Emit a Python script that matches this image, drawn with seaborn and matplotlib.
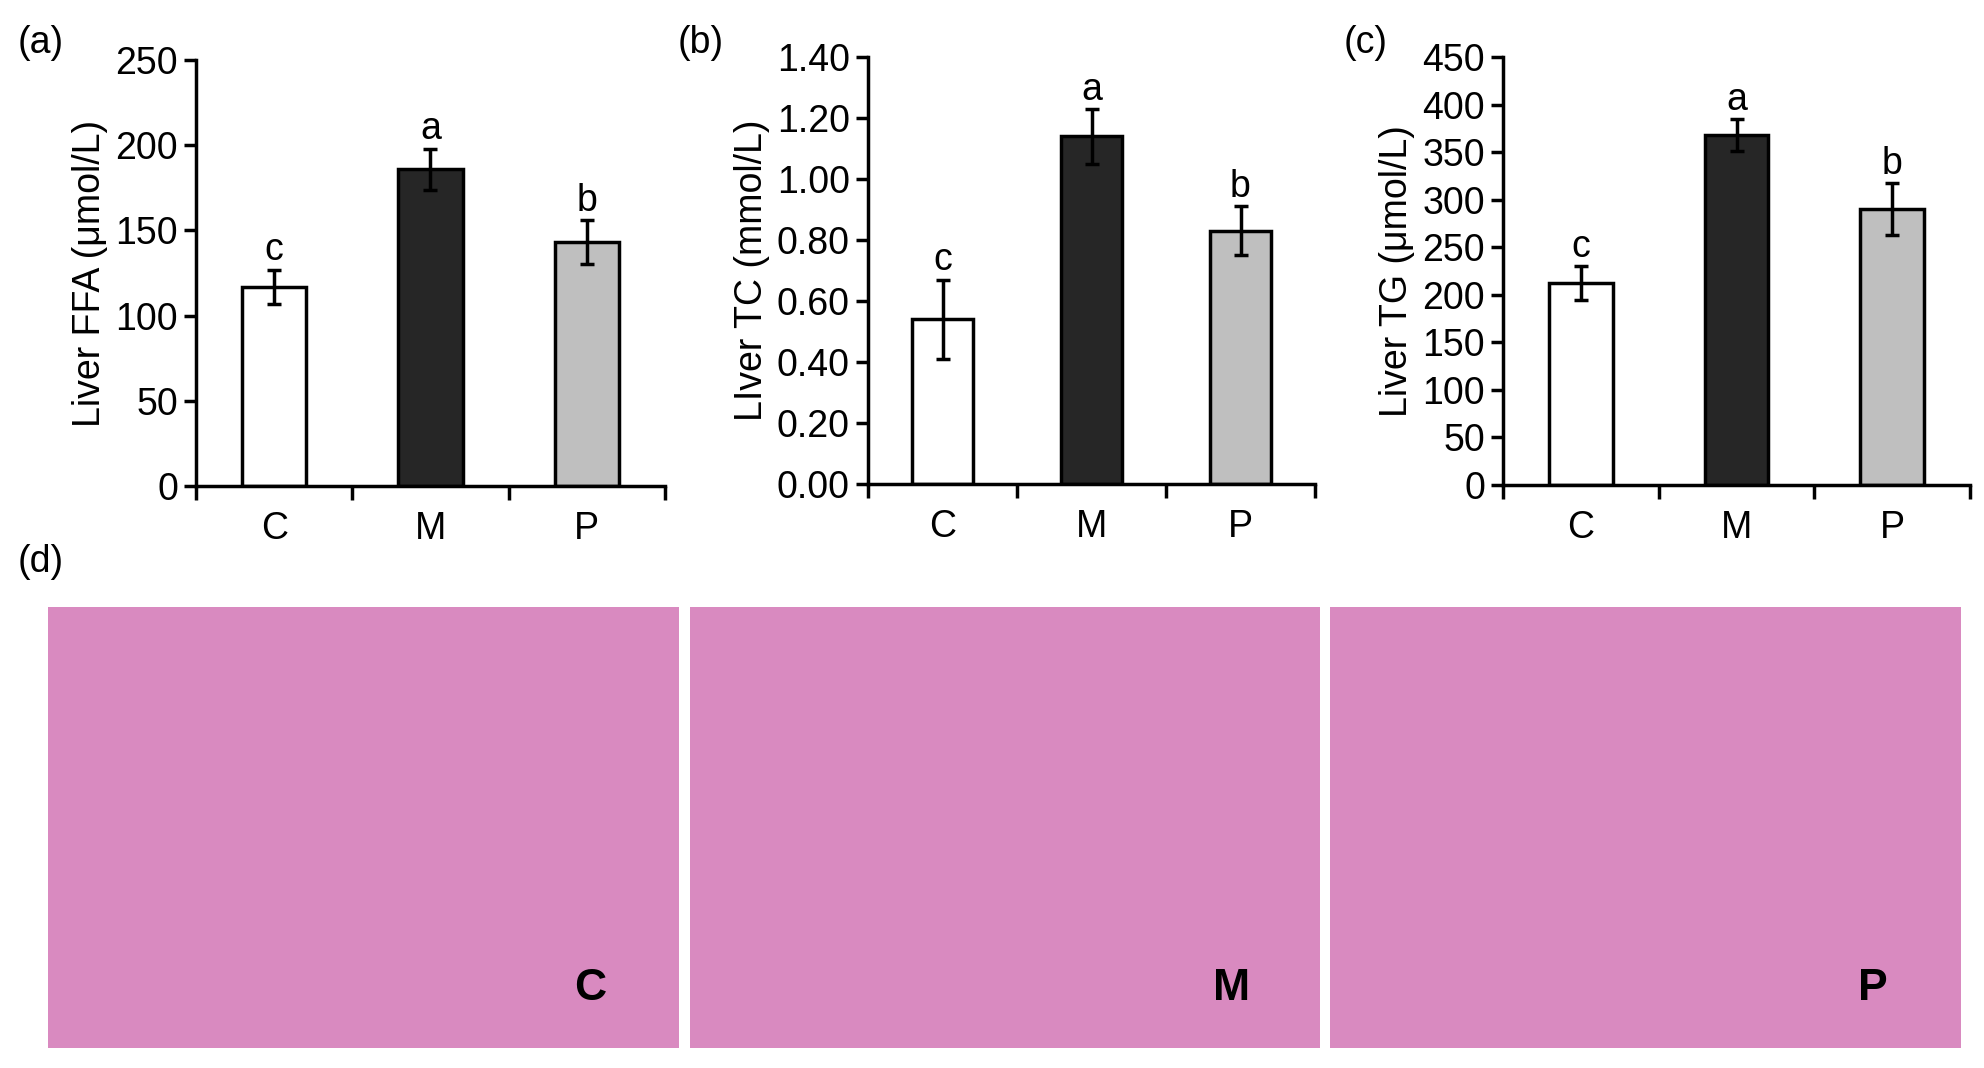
import matplotlib
matplotlib.use("Agg")
import matplotlib.pyplot as plt
import seaborn as sns
import pandas as pd
import numpy as np

sns.set_theme(style="ticks")
plt.rcParams['font.family'] = ['Liberation Sans', 'DejaVu Sans']
plt.rcParams['text.color'] = 'black'
plt.rcParams['axes.labelcolor'] = 'black'
plt.rcParams['xtick.color'] = 'black'
plt.rcParams['ytick.color'] = 'black'
plt.rcParams['axes.edgecolor'] = 'black'

groups = ["C", "M", "P"]
ffa = [117, 186, 143]
ffa_err = [10, 12, 13]
tc = [0.54, 1.14, 0.83]
tc_err = [0.13, 0.09, 0.08]
tg = [212, 368, 290]
tg_err = [18, 17, 27]
letters = ["c", "a", "b"]
colors = ["#ffffff", "#262626", "#bfbfbf"]

W, H = 1984, 1068
fig = plt.figure(figsize=(W/100, H/100), dpi=100)

def ax_at(x0, y0, x1, y1):
    return fig.add_axes([x0/W, 1-y1/H, (x1-x0)/W, (y1-y0)/H])

FS = 27
panels = [
    ((196, 60, 665, 486), ffa, ffa_err, 250, 50, "Liver FFA (\u03bcmol/L)", "{:.0f}", "(a)", 18),
    ((868, 57, 1315, 484), tc, tc_err, 1.40, 0.20, "LIver TC (mmol/L)", "{:.2f}", "(b)", 678),
    ((1503, 57, 1970, 485), tg, tg_err, 450, 50, "Liver TG (\u03bcmol/L)", "{:.0f}", "(c)", 1344),
]
for (box, vals, errs, ymax, step, ylab, fmt, tag, tagx) in panels:
    ax = ax_at(*box)
    df = pd.DataFrame({"g": groups, "v": vals})
    sns.barplot(data=df, x="g", y="v", hue="g", palette=colors, ax=ax,
                width=0.41, edgecolor="black", linewidth=2.5, legend=False)
    ax.errorbar(range(3), vals, yerr=errs, fmt="none", ecolor="black",
                elinewidth=2.5, capsize=5, capthick=2.5)
    for i, (v, e, l) in enumerate(zip(vals, errs, letters)):
        ax.text(i, v + e + ymax*0.003, l, ha="center", va="bottom", fontsize=FS)
    ax.set_ylim(0, ymax)
    ax.set_xlim(-0.5, 2.5)
    ticks = np.arange(0, ymax + step/2, step)
    ax.set_yticks(ticks)
    ax.set_yticklabels([fmt.format(t) for t in ticks], fontsize=FS)
    ax.set_xticks([-0.5, 0.5, 1.5, 2.5])
    ax.set_xticklabels([])
    ax.tick_params(axis="x", length=10, width=2.5, direction="out")
    ax.tick_params(axis="y", length=9, width=2.5, direction="out", pad=4)
    for i, g in enumerate(groups):
        ax.text(i, -0.1, g, transform=ax.get_xaxis_transform(), ha="center", va="center", fontsize=FS)
    ax.set_xlabel("")
    ax.set_ylabel(ylab, fontsize=FS, labelpad=5)
    for s in ["top", "right"]:
        ax.spines[s].set_visible(False)
    for s in ["left", "bottom"]:
        ax.spines[s].set_linewidth(2.5)
    fig.text(tagx/W, 1-43/H, tag, fontsize=FS, va="center")

fig.text(18/W, 1-562/H, "(d)", fontsize=FS, va="center")

imgs = [((48, 607, 679, 1048), "C"), ((690, 607, 1320, 1048), "M"), ((1330, 607, 1961, 1048), "P")]
for box, lab in imgs:
    ax = ax_at(*box)
    ax.set_facecolor("#d98ac0")
    ax.set_xticks([]); ax.set_yticks([])
    for s in ax.spines.values():
        s.set_visible(False)
    ax.text(0.86, 0.135, lab, transform=ax.transAxes, fontsize=FS+5,
            fontweight="bold", ha="center", va="center")

fig.savefig("out.png", dpi=100)
